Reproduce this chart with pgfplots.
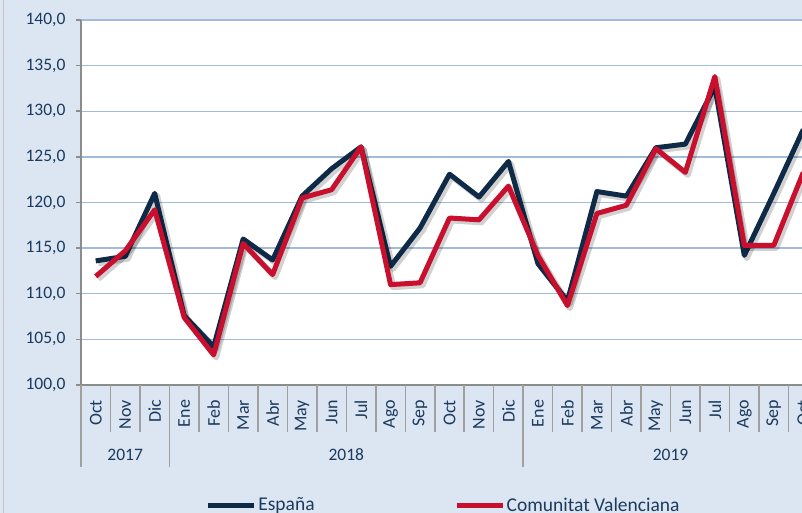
\documentclass[border=0pt]{standalone}
\usepackage{fontspec}
\setmainfont{Carlito}
\usepackage{pgfplots}
\pgfplotsset{compat=1.18}
\usepackage{pgfplotstable}
\definecolor{bgblue}{HTML}{DCE6F2}
\definecolor{gridblue}{HTML}{A3BBDB}
\definecolor{axgray}{HTML}{8C8C8C}
\definecolor{sepgray}{HTML}{A0A0A0}
\definecolor{navy}{HTML}{0E2A47}
\definecolor{cvred}{HTML}{C8102E}
\definecolor{txtblue}{HTML}{1B3A5E}
\pgfplotstableread{
x  esp    cv
0  113.6  111.9
1  114.1  114.7
2  121.0  119.2
3  107.6  107.4
4  104.2  103.3
5  116.0  115.5
6  113.7  112.1
7  120.7  120.5
8  123.7  121.4
9  126.1  126.1
10 113.0  111.0
11 117.2  111.2
12 123.1  118.3
13 120.6  118.1
14 124.5  121.8
15 113.3  114.2
16 109.2  108.7
17 121.2  118.8
18 120.7  119.7
19 126.0  125.9
20 126.4  123.3
21 132.7  133.8
22 114.2  115.3
23 121.0  115.3
24 128.0  123.3
}\datatable
\begin{document}
\begin{tikzpicture}
\useasboundingbox (0,0) rectangle (802pt,513pt);
\clip (0,0) rectangle (802pt,513pt);
\fill[bgblue] (0,0) rectangle (802pt,513pt);
\draw[color=black!22, line width=1.5pt] (3.5pt,0) -- (3.5pt,513pt);
\begin{axis}[
  at={(81pt,128pt)}, anchor=south west,
  width=737pt, height=365pt, scale only axis,
  xmin=-0.5, xmax=24.5, ymin=100, ymax=140,
  axis background/.style={fill=white},
  axis x line*=bottom, axis y line*=left,
  axis line style={draw=axgray, line width=1.5pt, -},
  ytick={100,105,...,140},
  ymajorgrids, grid style={draw=gridblue, line width=1.3pt},
  tick align=outside, major tick length=5pt,
  ytick style={draw=axgray, line width=1.5pt},
  xtick={0,...,24},
  xtick style={draw=none},
  xticklabels={Oct,Nov,Dic,Ene,Feb,Mar,Abr,May,Jun,Jul,Ago,Sep,Oct,Nov,Dic,Ene,Feb,Mar,Abr,May,Jun,Jul,Ago,Sep,Oct},
  xticklabel style={rotate=90, anchor=east, xshift=-6.5pt, font=\fontsize{18}{21}\selectfont, text=txtblue},
  yticklabel style={font=\fontsize{17.5}{20}\selectfont, text=txtblue, xshift=-7pt},
  /pgf/number format/.cd, fixed, fixed zerofill, precision=1, use comma, assume math mode=true,
  /pgfplots/.cd,
  clip mode=individual,
  legend columns=2,
  legend style={at={(0.165,-0.329)}, anchor=west, draw=none, fill=none,
    font=\fontsize{19.5}{22}\selectfont, text=txtblue,
    /tikz/every even column/.append style={column sep=138pt},
    nodes={inner xsep=1.5pt}},
  legend image code/.code={\draw[#1, line width=5pt] (0pt,0pt) -- (46pt,0pt);},
]
\pgfplotsinvokeforeach{-0.5,0.5,1.5,2.5,3.5,4.5,5.5,6.5,7.5,8.5,9.5,10.5,11.5,12.5,13.5,14.5,15.5,16.5,17.5,18.5,19.5,20.5,21.5,22.5,23.5,24.5}{
  \draw[sepgray, line width=1.5pt] (axis cs:#1,100) -- ([yshift=-47pt]axis cs:#1,100);
}
\pgfplotsinvokeforeach{-0.5,2.5,14.5}{
  \draw[sepgray, line width=1.5pt] (axis cs:#1,100) -- ([yshift=-82pt]axis cs:#1,100);
}
\node[font=\fontsize{17.5}{20}\selectfont, text=txtblue] at ([yshift=-70pt]axis cs:1,100) {2017};
\node[font=\fontsize{17.5}{20}\selectfont, text=txtblue] at ([yshift=-70pt]axis cs:8.5,100) {2018};
\node[font=\fontsize{17.5}{20}\selectfont, text=txtblue] at ([yshift=-70pt]axis cs:19.5,100) {2019};
\addplot[forget plot, black, opacity=0.18, line width=6pt, line join=round, xshift=2.5pt, yshift=-2.5pt] table[x=x, y=esp] {\datatable};
\addplot[navy, line width=5pt, line join=round] table[x=x, y=esp] {\datatable};
\addlegendentry{España}
\addplot[forget plot, black, opacity=0.18, line width=6pt, line join=round, xshift=2.5pt, yshift=-2.5pt] table[x=x, y=cv] {\datatable};
\addplot[cvred, line width=5pt, line join=round] table[x=x, y=cv] {\datatable};
\addlegendentry{Comunitat Valenciana}
\end{axis}
\end{tikzpicture}
\end{document}
